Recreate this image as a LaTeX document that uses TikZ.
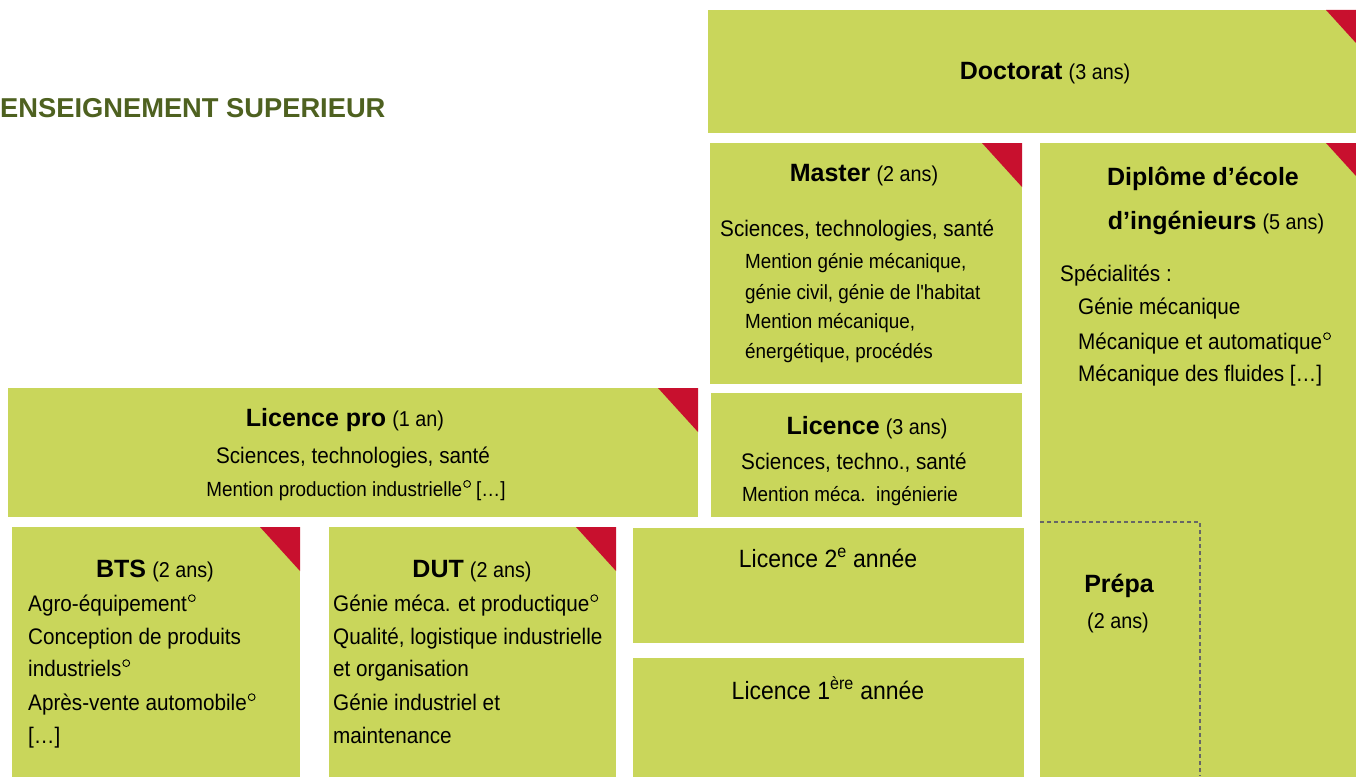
\documentclass[tikz,border=0pt]{standalone}
\usepackage{fontspec}
\setmainfont{Liberation Sans}
\newfontfamily\nr{Liberation Sans}[FakeStretch=0.92]
\usetikzlibrary{calc}
\definecolor{boxg}{HTML}{C9D65B}
\definecolor{cred}{HTML}{C8102E}
\definecolor{titleg}{HTML}{4E6120}
\definecolor{dashg}{HTML}{666666}
\newcommand{\tb}[1]{{\normalfont\bfseries\fontsize{25}{30}\selectfont #1}}
\newcommand{\ta}[1]{{\nr\fontsize{21.5}{26}\selectfont #1}}
\newcommand{\rond}{\hspace{1pt}\raisebox{0.40em}{\tikz\draw[line width=0.9pt] (0,0) circle (3.4pt);}}
\newcommand{\redcorner}[1]{\fill[cred] ($(#1.north east)+(-40,0)$) -- (#1.north east) -- ($(#1.north east)+(0,44)$) -- cycle;}
\begin{document}
\begin{tikzpicture}[x=1pt,y=-1pt,
  box/.style={fill=boxg, draw=none, anchor=north west, inner sep=0, outer sep=0},
  bodyt/.style={font=\nr\fontsize{22.5}{33}\selectfont, inner sep=0},
  subt/.style={font=\nr\fontsize{20.5}{30}\selectfont, inner sep=0},
  titlet/.style={font=\nr\fontsize{24}{30}\selectfont, inner sep=0, anchor=base},
  bigt/.style={font=\nr\fontsize{25}{30}\selectfont, inner sep=0, anchor=base},
]
\useasboundingbox (0,0) rectangle (1356,776);
\clip (0,0) rectangle (1356,776);
\fill[white] (0,0) rectangle (1356,776);

% boxes
\node[box, minimum width=658, minimum height=123] (doc) at (708,10) {};
\node[box, minimum width=312, minimum height=241] (mas) at (710,143) {};
\node[box, minimum width=326, minimum height=640] (dip) at (1040,143) {};
\node[box, minimum width=690, minimum height=129] (lpro) at (8,388) {};
\node[box, minimum width=311, minimum height=124] (lic) at (711,393) {};
\node[box, minimum width=288, minimum height=255] (bts) at (12,527) {};
\node[box, minimum width=287, minimum height=255] (dut) at (329,527) {};
\node[box, minimum width=391, minimum height=115] (l2) at (633,528) {};
\node[box, minimum width=391, minimum height=125] (l1) at (633,658) {};

\redcorner{doc}
\redcorner{mas}
\redcorner{dip}
\redcorner{lpro}
\redcorner{bts}
\redcorner{dut}

% prepa dashed
\coordinate (pa) at (1040,522);
\coordinate (pb) at (1200,522);
\coordinate (pc) at (1200,776);
\draw[dashg, line width=1.1pt, dash pattern=on 4pt off 3pt] (pa) -- (pb) -- (pc);

% heading
\node[anchor=base west, text=titleg, font=\bfseries\fontsize{27.3}{30}\selectfont, inner sep=0] (head) at (0,117) {ENSEIGNEMENT SUPERIEUR};

% Doctorat
\node[titlet] (docT) at (1045,79) {\tb{Doctorat} \ta{(3 ans)}};

% Master
\node[titlet] (masT) at (864,181) {\tb{Master} \ta{(2 ans)}};
\node[bodyt, anchor=base west] (mas1) at (720,236) {Sciences, technologies, santé};
\node[subt, anchor=base west] (mas2) at (745,268) {Mention génie mécanique,};
\node[subt, anchor=base west] (mas3) at (745,299) {génie civil, génie de l'habitat};
\node[subt, anchor=base west] (mas4) at (745,328) {Mention mécanique,};
\node[subt, anchor=base west] (mas5) at (745,358) {énergétique, procédés};

% Diplome
\node[titlet] (dipT1) at (1203,185) {\tb{Diplôme d’école}};
\node[titlet] (dipT2) at (1216,229) {\tb{d’ingénieurs} \ta{(5 ans)}};
\node[bodyt, anchor=base west] (dip1) at (1060,281) {Spécialités :};
\node[bodyt, anchor=base west] (dip2) at (1078,314) {Génie mécanique};
\node[bodyt, anchor=base west] (dip3) at (1078,349) {Mécanique et automatique\rond};
\node[bodyt, anchor=base west] (dip4) at (1078,381) {Mécanique des fluides […]};

% Licence pro
\node[titlet] (lproT) at (345,426) {\tb{Licence pro} \ta{(1 an)}};
\node[bodyt, anchor=base] (lpro1) at (353,463) {Sciences, technologies, santé};
\node[subt, anchor=base] (lpro2) at (356,496) {Mention production industrielle\rond{} […]};

% Licence
\node[titlet] (licT) at (867,434) {\tb{Licence} \ta{(3 ans)}};
\node[bodyt, anchor=base] (lic1) at (854,469) {Sciences, techno., santé};
\node[subt, anchor=base] (lic2) at (850,501) {Mention méca.\ \ ingénierie};

% BTS
\node[titlet] (btsT) at (155,577) {\tb{BTS} \ta{(2 ans)}};
\node[bodyt, anchor=base west] (bts1) at (28,611) {Agro-équipement\rond};
\node[bodyt, anchor=base west] (bts2) at (28,644) {Conception de produits};
\node[bodyt, anchor=base west] (bts3) at (28,676) {industriels\rond};
\node[bodyt, anchor=base west] (bts4) at (28,710) {Après-vente automobile\rond};
\node[bodyt, anchor=base west] (bts5) at (28,743) {[…]};

% DUT
\node[titlet] (dutT) at (472,577) {\tb{DUT} \ta{(2 ans)}};
\node[bodyt, anchor=base west] (dut1) at (333,611) {Génie méca. et productique\rond};
\node[bodyt, anchor=base west] (dut2) at (333,644) {Qualité, logistique industrielle};
\node[bodyt, anchor=base west] (dut3) at (333,676) {et organisation};
\node[bodyt, anchor=base west] (dut4) at (333,710) {Génie industriel et};
\node[bodyt, anchor=base west] (dut5) at (333,743) {maintenance};

% Licence 2e / 1ere
\node[bigt] (l2T) at (828,567) {Licence 2\textsuperscript{e} année};
\node[bigt] (l1T) at (828,699) {Licence 1\textsuperscript{ère} année};

% Prepa
\node[titlet] (prepT) at (1119,592) {\tb{Prépa}};
\node[titlet] (prep2) at (1118,628) {\ta{(2 ans)}};
\end{tikzpicture}
\end{document}
